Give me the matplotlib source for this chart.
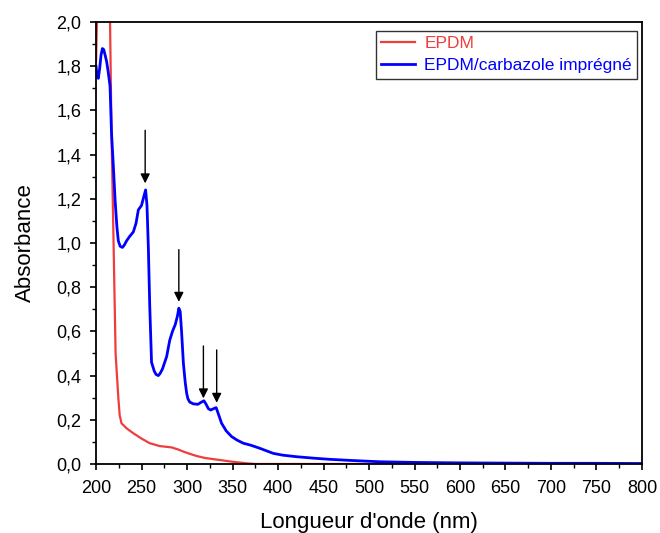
import matplotlib
matplotlib.use("Agg")
import matplotlib.pyplot as plt
from matplotlib.ticker import MultipleLocator, FuncFormatter

plt.rcParams['font.family'] = ['Liberation Sans', 'DejaVu Sans']

# EPDM (red)
epdm_nm = [200, 202, 205, 210, 213, 215.4, 217, 219, 221.5, 224.5, 226, 228, 234, 241,
           250, 259, 270, 283, 290, 296, 303, 310.6, 320, 336, 350, 365.6, 375, 400, 500, 600, 700, 800]
epdm_abs = [1.82, 2.2, 2.6, 2.8, 2.4, 2.0, 1.5, 1.06, 0.5, 0.3, 0.22, 0.184, 0.16, 0.139,
            0.115, 0.094, 0.081, 0.075, 0.066, 0.056, 0.046, 0.036, 0.027, 0.018, 0.01, 0.003, 0.0, 0.0, 0.0, 0.0, 0.0, 0.0]

# EPDM/carbazole impregne (blue)
carb_nm = [200, 201, 202.5, 204, 205.5, 207, 208.5, 210, 211.7, 213.5, 215.4, 217, 219, 221, 223, 224.5,
           226.5, 229, 231, 233.6, 237, 241, 244, 246.5, 250, 252.5, 254.5, 256, 257.5, 259, 261,
           264, 266, 268.5, 270.5, 273, 277.6, 281, 284, 287, 289.5, 291, 292.5, 294, 296, 298,
           299.6, 301, 303, 307, 312, 315, 318.6, 321, 323.5, 326, 329, 332, 335, 338, 343, 349,
           355, 361.8, 370, 380, 387, 394.8, 405, 420, 440, 457, 480, 512, 550, 600, 650, 700, 750, 800]
carb_abs = [1.80, 1.76, 1.745, 1.79, 1.85, 1.88, 1.875, 1.85, 1.82, 1.77, 1.71, 1.50, 1.35, 1.19, 1.07, 1.01,
            0.985, 0.98, 0.99, 1.01, 1.03, 1.05, 1.09, 1.15, 1.17, 1.21, 1.24, 1.17, 0.98, 0.72, 0.46,
            0.42, 0.405, 0.40, 0.41, 0.43, 0.486, 0.56, 0.6, 0.63, 0.67, 0.705, 0.69, 0.6, 0.456, 0.37,
            0.32, 0.295, 0.28, 0.272, 0.27, 0.278, 0.286, 0.27, 0.25, 0.244, 0.25, 0.255, 0.22, 0.184, 0.15, 0.124,
            0.108, 0.094, 0.085, 0.071, 0.06, 0.048, 0.04, 0.033, 0.026, 0.021, 0.016, 0.010, 0.007, 0.005, 0.004,
            0.003, 0.003, 0.002]

# arrows: (x, start absorbance, tip absorbance)
arrow_x = [254, 291, 318, 332.6]
arrow_start = [1.51, 0.97, 0.534, 0.516]
arrow_tip = [1.27, 0.734, 0.297, 0.277]

xticks = list(range(200, 801, 50))
yticks = [0.0, 0.2, 0.4, 0.6, 0.8, 1.0, 1.2, 1.4, 1.6, 1.8, 2.0]

fig = plt.figure(figsize=(6.6, 5.33), dpi=100)
ax = fig.add_axes([0.1455, 0.1295, 0.8272, 0.8292])

ax.plot(epdm_nm, epdm_abs, color='#f03c3c', lw=1.6, label='EPDM')
ax.plot(carb_nm, carb_abs, color='#0000ff', lw=2.0, label='EPDM/carbazole imprégné')

for x, s, t in zip(arrow_x, arrow_start, arrow_tip):
    ax.annotate('', xy=(x, t), xytext=(x, s),
                arrowprops=dict(arrowstyle='-|>', color='black', lw=1.0,
                                mutation_scale=14, shrinkA=0, shrinkB=0))

ax.set_xlim(200, 800)
ax.set_ylim(0, 2.0)
ax.set_xticks(xticks)
ax.set_yticks(yticks)
ax.xaxis.set_minor_locator(MultipleLocator(25))
ax.yaxis.set_minor_locator(MultipleLocator(0.1))
ax.yaxis.set_major_formatter(FuncFormatter(lambda v, p: f"{v:.1f}".replace('.', ',')))
ax.tick_params(which='major', direction='out', length=4.5, width=1.2, labelsize=13, pad=6)
ax.tick_params(axis='x', which='major', pad=7)
ax.tick_params(which='minor', direction='out', length=3, width=1.0)
for sp in ax.spines.values():
    sp.set_linewidth(1.3)

ax.set_xlabel("Longueur d'onde (nm)", fontsize=16, labelpad=11)
ax.set_ylabel("Absorbance", fontsize=16, labelpad=15)

leg = ax.legend(loc='upper right', bbox_to_anchor=(0.9908, 0.9796), fontsize=12.5, frameon=True,
                fancybox=False, edgecolor='black', handlelength=2.0, borderpad=0.3,
                labelspacing=0.4, handletextpad=0.5, borderaxespad=0.0)
leg.get_frame().set_linewidth(1.0)
for txt, c in zip(leg.get_texts(), ['#f03c3c', '#0000ff']):
    txt.set_color(c)

fig.savefig('out.png', dpi=100)
